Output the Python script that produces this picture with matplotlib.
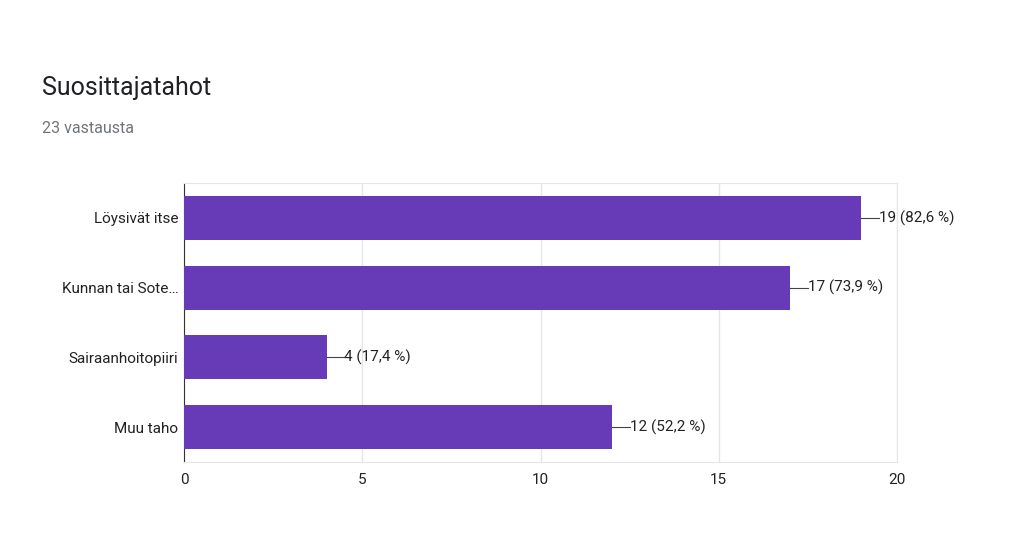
import matplotlib
matplotlib.use("Agg")
import matplotlib.pyplot as plt

categories = ["Löysivät itse", "Kunnan tai Sote…", "Sairaanhoitopiiri", "Muu taho"]
values = [19, 17, 4, 12]
labels = ["19 (82,6 %)", "17 (73,9 %)", "4 (17,4 %)", "12 (52,2 %)"]
xticks = [0, 5, 10, 15, 20]

plt.rcParams["font.family"] = "Roboto"
fig = plt.figure(figsize=(10.23, 5.43), dpi=100)
ax = fig.add_axes([184/1023, 1-462/543, (897-184)/1023, (462-183)/543])
y = list(range(len(categories)))
ax.barh(y, values, height=0.63, color="#673ab7", zorder=3)
for yi, v, l in zip(y, values, labels):
    ax.plot([v, v+0.5], [yi, yi], color="#444444", lw=0.8, zorder=4)
    ax.text(v+0.5, yi, l, va="center", ha="left", fontsize=11, color="#222222")
ax.set_ylim(3.5, -0.5)
ax.set_xlim(0, 20)
ax.set_xticks(xticks)
ax.set_yticks(y)
ax.set_yticklabels(categories)
ax.tick_params(length=0, labelsize=11, colors="#222222", pad=4)
ax.tick_params(axis="x", pad=8)
ax.grid(axis="x", color="#e6e6e6", lw=1, zorder=0)
for s in ["top", "right", "bottom"]:
    ax.spines[s].set_color("#e6e6e6")
ax.spines["left"].set_color("#333333")
fig.text(42/1023, 1-88/543, "Suosittajatahot", fontsize=18, va="center", color="#202124")
fig.text(42/1023, 1-128/543, "23 vastausta", fontsize=11.5, va="center", color="#70757a")
fig.savefig("out.png", dpi=100)
